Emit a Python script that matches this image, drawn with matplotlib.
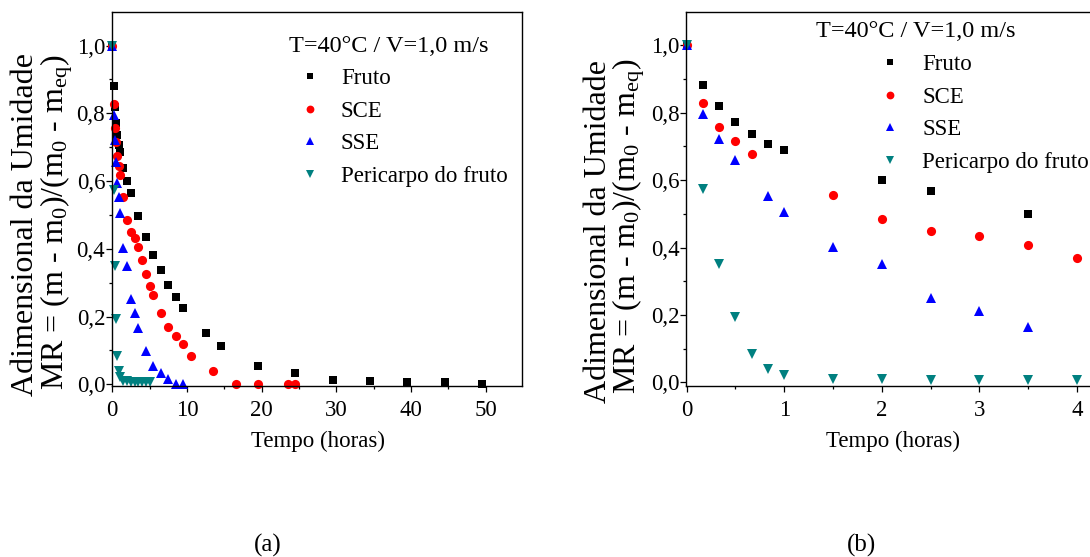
import matplotlib
matplotlib.use("Agg")
import matplotlib.pyplot as plt
from matplotlib.ticker import MultipleLocator, FuncFormatter

plt.rcParams['font.family'] = ['Liberation Serif', 'DejaVu Serif']
plt.rcParams['mathtext.fontset'] = 'custom'
plt.rcParams['mathtext.rm'] = 'Liberation Serif'
plt.rcParams['mathtext.it'] = 'Liberation Serif:italic'
plt.rcParams['mathtext.bf'] = 'Liberation Serif:bold'

# ---------------- data: panel (a) ----------------
a_fruto_t = [0, 0.167, 0.333, 0.5, 0.667, 0.833, 1.0, 1.5, 2.0, 2.5, 3.5, 4.5, 5.5,
             6.5, 7.5, 8.5, 9.5, 12.5, 14.5, 19.5, 24.5, 29.5, 34.5, 39.5, 44.5, 49.5]
a_fruto_v = [1.0, 0.880, 0.819, 0.772, 0.735, 0.707, 0.687, 0.638, 0.600, 0.565, 0.497,
             0.436, 0.383, 0.336, 0.292, 0.258, 0.225, 0.152, 0.112, 0.054, 0.033,
             0.014, 0.009, 0.008, 0.008, 0.0]
a_sce_t = [0, 0.167, 0.333, 0.5, 0.667, 0.833, 1.0, 1.5, 2.0, 2.5, 3.0, 3.5, 4.0, 4.5,
           5.0, 5.5, 6.5, 7.5, 8.5, 9.5, 10.5, 13.5, 16.5, 19.5, 23.5, 24.5]
a_sce_v = [1.0, 0.827, 0.757, 0.716, 0.675, 0.643, 0.617, 0.554, 0.485, 0.450, 0.433,
           0.406, 0.367, 0.326, 0.290, 0.263, 0.212, 0.169, 0.143, 0.120, 0.084,
           0.039, 0.002, 0.0, 0.0, 0.0]
a_sse_t = [0, 0.167, 0.333, 0.5, 0.667, 0.833, 1.0, 1.5, 2.0, 2.5, 3.0, 3.5, 4.5, 5.5,
           6.5, 7.5, 8.5, 9.5]
a_sse_v = [1.0, 0.794, 0.720, 0.657, 0.594, 0.552, 0.506, 0.401, 0.348, 0.251, 0.211,
           0.165, 0.097, 0.053, 0.033, 0.015, 0.0, 0.0]
a_peri_t = [0, 0.167, 0.333, 0.5, 0.667, 0.833, 1.0, 1.5, 2.0, 2.5, 3.0, 3.5, 4.0, 4.5, 5.0]
a_peri_v = [1.0, 0.573, 0.350, 0.193, 0.085, 0.040, 0.022, 0.010, 0.009, 0.008, 0.007,
            0.007, 0.007, 0.007, 0.007]

# ---------------- data: panel (b) ----------------
b_fruto_t = [0, 0.167, 0.333, 0.5, 0.667, 0.833, 1.0, 2.0, 2.5, 3.5]
b_fruto_v = [1.0, 0.882, 0.820, 0.773, 0.737, 0.708, 0.689, 0.600, 0.567, 0.498]
b_sce_t = [0, 0.167, 0.333, 0.5, 0.667, 1.5, 2.0, 2.5, 3.0, 3.5, 4.0]
b_sce_v = [1.0, 0.828, 0.758, 0.717, 0.677, 0.555, 0.485, 0.450, 0.434, 0.406, 0.368]
b_sse_t = [0, 0.167, 0.333, 0.5, 0.833, 1.0, 1.5, 2.0, 2.5, 3.0, 3.5]
b_sse_v = [1.0, 0.795, 0.721, 0.658, 0.553, 0.506, 0.402, 0.350, 0.251, 0.212, 0.165]
b_peri_t = [0, 0.167, 0.333, 0.5, 0.667, 0.833, 1.0, 1.5, 2.0, 2.5, 3.0, 3.5, 4.0]
b_peri_v = [1.0, 0.573, 0.350, 0.193, 0.084, 0.039, 0.022, 0.010, 0.009, 0.007, 0.007,
            0.007, 0.007]

labels = ["Fruto", "SCE", "SSE", "Pericarpo do fruto"]
y_ticks = [0.0, 0.2, 0.4, 0.6, 0.8, 1.0]
a_x_ticks = [0, 10, 20, 30, 40, 50]
b_x_ticks = [0, 1, 2, 3, 4]
cond_text = "T=40°C / V=1,0 m/s"
xlab = "Tempo (horas)"
ylab1 = "Adimensional da Umidade"
ylab2 = r"MR = (m - m$_0$)/(m$_0$ - m$_{\mathrm{eq}}$)"

styles = [dict(marker='s', color='#000000', ms=5.8),
          dict(marker='o', color='#ff0000', ms=6.6),
          dict(marker='^', color='#0000ff', ms=7.0),
          dict(marker='v', color='#008080', ms=7.0)]

W, H = 1090, 557
fig = plt.figure(figsize=(W / 100, H / 100), dpi=100)


def px_rect(l, t, r, b):
    return [l / W, 1 - b / H, (r - l) / W, (b - t) / H]


def comma(v, pos):
    return ("%.1f" % v).replace('.', ',')


def style_axes(ax, xmajor, xminor):
    ax.xaxis.set_major_locator(MultipleLocator(xmajor))
    ax.xaxis.set_minor_locator(MultipleLocator(xminor))
    ax.yaxis.set_major_locator(MultipleLocator(0.2))
    ax.yaxis.set_minor_locator(MultipleLocator(0.1))
    ax.yaxis.set_major_formatter(FuncFormatter(comma))
    ax.tick_params(which='both', direction='out', top=False, right=False, width=0.9)
    ax.tick_params(which='major', length=4.2, labelsize=16.5)
    ax.tick_params(axis='y', which='major', pad=0.5)
    ax.tick_params(axis='x', which='major', pad=6)
    ax.tick_params(which='minor', length=2.5)
    for s in ax.spines.values():
        s.set_linewidth(1.0)


def draw(ax, series):
    handles = []
    for (t, v), st in zip(series, styles):
        h, = ax.plot(t, v, linestyle='none', marker=st['marker'], color=st['color'],
                     markersize=st['ms'], markeredgewidth=0, clip_on=False)
        handles.append(h)
    return handles


# ---------------- panel (a) ----------------
ax1 = fig.add_axes(px_rect(111.7, 12.3, 522.3, 385.7))
h1 = draw(ax1, [(a_fruto_t, a_fruto_v), (a_sce_t, a_sce_v),
                (a_sse_t, a_sse_v), (a_peri_t, a_peri_v)])
ax1.set_xlim(-0.08, 54.9)
ax1.set_ylim(-0.004, 1.098)
style_axes(ax1, 10, 5)
ax1.set_xticks(a_x_ticks)
ax1.set_yticks(y_ticks)
ax1.set_xlabel(xlab, fontsize=16.5)
ax1.xaxis.set_label_coords(0.5025, -0.15)
ax1.xaxis.label.set_va('center')
ax1.text(0.675, 0.908, cond_text, transform=ax1.transAxes, ha='center', va='center',
         fontsize=17.5)
ax1.legend(h1, labels, loc='upper left', bbox_to_anchor=(0.455, 0.85), frameon=False,
           fontsize=16.5, borderpad=0, borderaxespad=0, handlelength=1.0,
           handletextpad=0.85, labelspacing=0.5, markerscale=0.85)

# ---------------- panel (b) ----------------
ax2 = fig.add_axes(px_rect(686.0, 12.0, 1096.6, 385.7))
h2 = draw(ax2, [(b_fruto_t, b_fruto_v), (b_sce_t, b_sce_v),
                (b_sse_t, b_sse_v), (b_peri_t, b_peri_v)])
ax2.set_xlim(-0.007, 4.2)
ax2.set_ylim(-0.0095, 1.098)
style_axes(ax2, 1, 0.5)
ax2.set_xticks(b_x_ticks)
ax2.set_yticks(y_ticks)
ax2.set_xlabel(xlab, fontsize=16.5)
ax2.xaxis.set_label_coords(0.504, -0.15)
ax2.xaxis.label.set_va('center')
ax2.text(0.560, 0.9465, cond_text, transform=ax2.transAxes, ha='center', va='center',
         fontsize=17.5)
ax2.legend(h2, labels, loc='upper left', bbox_to_anchor=(0.469, 0.8876), frameon=False,
           fontsize=16.5, borderpad=0, borderaxespad=0, handlelength=1.0,
           handletextpad=0.9, labelspacing=0.5, markerscale=0.85)

# ---------------- y labels (two lines) ----------------
for x1, y1, x2, y2 in [(26, 224, 57, 222), (599, 232, 629, 226)]:
    fig.text(x1 / W, 1 - y1 / H, ylab1, rotation=90, ha='center', va='center', fontsize=23)
    fig.text(x2 / W, 1 - y2 / H, ylab2, rotation=90, ha='center', va='center', fontsize=23)

# ---------------- panel captions ----------------
fig.text(268 / W, 1 - 545 / H, "(a)", ha='center', va='center', fontsize=18)
fig.text(862 / W, 1 - 545 / H, "(b)", ha='center', va='center', fontsize=18)

fig.savefig("out.png", dpi=100)
